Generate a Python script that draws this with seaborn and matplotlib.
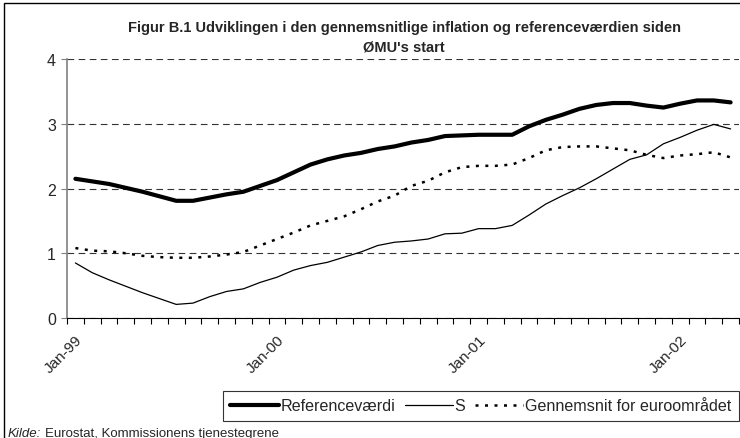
import numpy as np
import pandas as pd
import matplotlib
matplotlib.use("Agg")
import matplotlib.pyplot as plt
import matplotlib.transforms as mtransforms
import seaborn as sns
from matplotlib.patches import Rectangle

# monthly values, Jan-99 .. Apr-02
months = pd.date_range("1999-01-01", periods=40, freq="MS")
referencevaerdi = [2.15, 2.11, 2.07, 2.01, 1.95, 1.88, 1.81, 1.81, 1.86, 1.91,
                   1.95, 2.04, 2.13, 2.25, 2.37, 2.45, 2.51, 2.55, 2.61, 2.65,
                   2.71, 2.75, 2.81, 2.82, 2.83, 2.83, 2.83, 2.96, 3.06, 3.14,
                   3.23, 3.29, 3.32, 3.32, 3.28, 3.25, 3.31, 3.36, 3.36, 3.33]
s_values = [0.85, 0.70, 0.59, 0.49, 0.39, 0.30, 0.21, 0.23, 0.33, 0.41,
            0.45, 0.55, 0.63, 0.74, 0.81, 0.86, 0.94, 1.02, 1.12, 1.17,
            1.19, 1.22, 1.30, 1.31, 1.38, 1.38, 1.43, 1.59, 1.76, 1.89,
            2.01, 2.15, 2.30, 2.45, 2.52, 2.69, 2.79, 2.90, 2.99, 2.92]
euro_avg = [1.08, 1.04, 1.03, 1.00, 0.96, 0.94, 0.93, 0.93, 0.95, 0.98,
            1.02, 1.12, 1.22, 1.32, 1.43, 1.50, 1.57, 1.68, 1.80, 1.89,
            2.04, 2.12, 2.25, 2.33, 2.35, 2.35, 2.37, 2.47, 2.59, 2.64,
            2.65, 2.65, 2.62, 2.59, 2.52, 2.47, 2.51, 2.53, 2.56, 2.48]
tick_labels = ["Jan-99", "Jan-00", "Jan-01", "Jan-02"]

df = pd.DataFrame({"idx": np.arange(len(months)),
                   "Referenceværdi": referencevaerdi,
                   "S": s_values,
                   "Gennemsnit for euroområdet": euro_avg})

sns.set_theme(style="white")
plt.rcParams["font.family"] = ["Liberation Sans", "DejaVu Sans"]

fig = plt.figure(figsize=(7.4, 4.39), dpi=100)
ax = fig.add_axes([67 / 740, 1 - 319 / 439, (739 - 67) / 740, (319 - 60) / 439])

sns.lineplot(data=df, x="idx", y="Referenceværdi", ax=ax, color="black",
             linewidth=3.0, label="Referenceværdi")
sns.lineplot(data=df, x="idx", y="S", ax=ax, color="black",
             linewidth=0.9, label="S")
sns.lineplot(data=df, x="idx", y="Gennemsnit for euroområdet", ax=ax,
             color="black", linewidth=1.8, linestyle=(0, (1.2, 2.6)),
             label="Gennemsnit for euroområdet")

ax.set_xlim(-0.5, len(months) - 0.5)
ax.set_ylim(0, 4)
ax.set_xlabel("")
ax.set_ylabel("")

ax.set_yticks([0, 1, 2, 3, 4])
ax.set_yticklabels(["0", "1", "2", "3", "4"], fontsize=11.5)
ax.yaxis.grid(True, color="#333333", linestyle=(0, (6, 4)), linewidth=0.8)
ax.xaxis.grid(False)

# month ticks between categories, labels every 12 months
ax.set_xticks(np.arange(len(months) + 1) - 0.5, minor=True)
ax.set_xticks([0, 12, 24, 36])
ax.set_xticklabels(tick_labels, rotation=45, ha="right", rotation_mode="anchor",
                   fontsize=11)
shift = mtransforms.ScaledTranslation(-5 / 100, 0, fig.dpi_scale_trans)
for lbl in ax.get_xticklabels():
    lbl.set_transform(lbl.get_transform() + shift)
ax.tick_params(axis="x", which="major", length=0, pad=10)
ax.tick_params(axis="x", which="minor", length=4, width=0.8, color="black",
               direction="out", bottom=True)
ax.tick_params(axis="y", length=4, width=0.8, color="#808080", left=True,
               direction="out", pad=4)

for side in ["top", "right"]:
    ax.spines[side].set_visible(False)
ax.spines["left"].set_color("#808080")
ax.spines["left"].set_linewidth(1.2)
ax.spines["bottom"].set_color("black")
ax.spines["bottom"].set_linewidth(0.8)

ax.get_legend().remove()
handles, labels = ax.get_legend_handles_labels()
leg = fig.legend(handles, labels, loc="upper left", ncol=3,
                 bbox_to_anchor=(223 / 740, 1 - 392 / 439), frameon=True,
                 fancybox=False, edgecolor="black", fontsize=11.6,
                 handlelength=3.0, handletextpad=0.1, columnspacing=0.6,
                 borderpad=0.45, borderaxespad=0)
leg.get_frame().set_linewidth(0.8)

fig.text(404 / 740, 1 - 28 / 439,
         "Figur B.1 Udviklingen i den gennemsnitlige inflation og referenceværdien siden",
         ha="center", va="center", fontsize=10.5, fontweight="bold")
fig.text(404 / 740, 1 - 47 / 439, "ØMU's start",
         ha="center", va="center", fontsize=10.5, fontweight="bold")

fig.text(8 / 740, 1 - 434 / 439, "Kilde:", fontstyle="italic", fontsize=9.5,
         ha="left", va="center")
fig.text(45 / 740, 1 - 434 / 439, "Eurostat, Kommissionens tjenestegrene",
         fontsize=9.5, ha="left", va="center")

fig.patches.append(Rectangle((4 / 740, -0.2), 1.2, 1 - 4 / 439 + 0.2,
                             transform=fig.transFigure, fill=False,
                             edgecolor="black", linewidth=1.0))

fig.savefig("out.png", dpi=100)
